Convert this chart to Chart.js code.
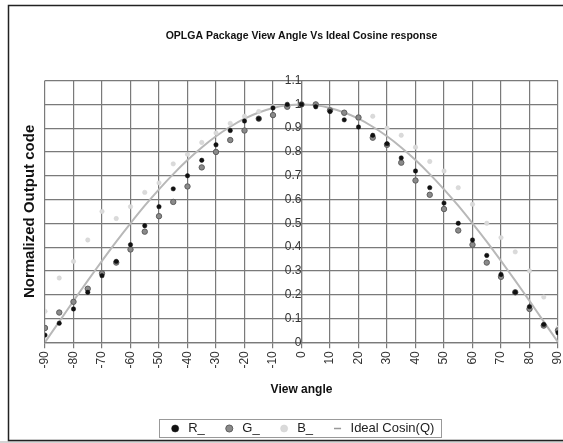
<!DOCTYPE html>
<html>
<head>
<meta charset="utf-8">
<script src="https://cdn.jsdelivr.net/npm/chart.js@4/dist/chart.umd.min.js"></script>
<style>
  body { margin: 0; background: #fff; }
  canvas { display: block; }
</style>
</head>
<body>
<canvas id="grafico" width="563" height="443"></canvas>
<script>
// ângulos de visada (graus), passo de 5
const angulos = [-90, -85, -80, -75, -70, -65, -60, -55, -50, -45, -40, -35, -30, -25, -20, -15, -10, -5,
  0, 5, 10, 15, 20, 25, 30, 35, 40, 45, 50, 55, 60, 65, 70, 75, 80, 85, 90];

// valores
const valoresR = [0.03, 0.08, 0.14, 0.21, 0.28, 0.34, 0.41, 0.49, 0.57, 0.645, 0.70, 0.765, 0.83, 0.89, 0.93, 0.94, 0.985, 1.0,
  1.0, 0.99, 0.97, 0.935, 0.905, 0.87, 0.835, 0.775, 0.72, 0.65, 0.585, 0.50, 0.43, 0.365, 0.285, 0.21, 0.15, 0.075, 0.04];

const valoresG = [0.06, 0.125, 0.17, 0.225, 0.29, 0.335, 0.39, 0.465, 0.53, 0.59, 0.655, 0.735, 0.80, 0.85, 0.89, 0.94, 0.955, 0.99,
  1.0, 1.0, 0.975, 0.965, 0.945, 0.86, 0.83, 0.755, 0.68, 0.62, 0.56, 0.47, 0.41, 0.335, 0.275, 0.21, 0.14, 0.07, 0.05];

const valoresB = [0.13, 0.27, 0.34, 0.43, 0.55, 0.52, 0.57, 0.63, 0.67, 0.75, 0.79, 0.84, 0.88, 0.92, 0.95, 0.97, 0.99, 1.0,
  1.0, 1.0, 0.98, 0.96, 0.94, 0.95, 0.90, 0.87, 0.82, 0.76, 0.72, 0.65, 0.58, 0.50, 0.44, 0.38, 0.30, 0.19, 0.06];

const cossenoIdeal = [0, 0.087, 0.174, 0.259, 0.342, 0.423, 0.5, 0.574, 0.643, 0.707, 0.766, 0.819, 0.866, 0.906, 0.94, 0.966, 0.985, 0.996,
  1.0, 0.996, 0.985, 0.966, 0.94, 0.906, 0.866, 0.819, 0.766, 0.707, 0.643, 0.574, 0.5, 0.423, 0.342, 0.259, 0.174, 0.087, 0];

const rotulos = ['R_', 'G_', 'B_', 'Ideal Cosin(Q)'];

const fonte = "'Liberation Sans', Arial, sans-serif";
const corGrade = '#7a7a7a';

function pontos(valores) {
  return angulos.map((a, i) => ({ x: a, y: valores[i] }));
}

// moldura externa e caixa da legenda
const molduraPlugin = {
  id: 'moldura',
  beforeDraw(chart) {
    const ctx = chart.ctx;
    ctx.save();
    ctx.fillStyle = '#fff';
    ctx.fillRect(0, 0, chart.width, chart.height);
    ctx.fillStyle = '#d4d4d4';
    ctx.fillRect(0, 441, chart.width, 2);
    ctx.strokeStyle = '#222';
    ctx.lineWidth = 1.5;
    ctx.strokeRect(8.5, 5.5, chart.width, 435);
    ctx.restore();
  },
  afterDraw(chart) {
    const caixas = chart.legend.legendHitBoxes;
    if (!caixas || !caixas.length) return;
    const esq = Math.min(...caixas.map(c => c.left)) - 10;
    const dir = Math.max(...caixas.map(c => c.left + c.width)) + 6;
    const topo = Math.min(...caixas.map(c => c.top)) - 3;
    const base = Math.max(...caixas.map(c => c.top + c.height)) + 2;
    const ctx = chart.ctx;
    ctx.save();
    ctx.strokeStyle = '#999';
    ctx.lineWidth = 1;
    ctx.strokeRect(Math.round(esq) + 0.5, Math.round(topo) + 0.5, Math.round(dir - esq), Math.round(base - topo));
    ctx.restore();
  }
};

const ctx = document.getElementById('grafico').getContext('2d');

new Chart(ctx, {
  type: 'line',
  data: {
    datasets: [
      {
        label: rotulos[0],
        data: pontos(valoresR),
        showLine: false,
        pointRadius: 2.2,
        pointBackgroundColor: '#111',
        pointBorderColor: '#111',
        pointBorderWidth: 0.5
      },
      {
        label: rotulos[1],
        data: pontos(valoresG),
        showLine: false,
        pointRadius: 2.7,
        pointBackgroundColor: '#8a8a8a',
        pointBorderColor: '#5e5e5e',
        pointBorderWidth: 1
      },
      {
        label: rotulos[2],
        data: pontos(valoresB),
        showLine: false,
        pointRadius: 2.2,
        pointBackgroundColor: '#dadada',
        pointBorderColor: '#d0d0d0',
        pointBorderWidth: 0.5
      },
      {
        label: rotulos[3],
        data: pontos(cossenoIdeal),
        borderColor: '#b8b8b8',
        borderWidth: 2,
        pointRadius: 0,
        pointStyle: 'line',
        pointBorderColor: '#999',
        pointBorderWidth: 1.5,
        tension: 0.3
      }
    ]
  },
  options: {
    responsive: false,
    animation: false,
    layout: { padding: { left: 10, right: 0, top: 0, bottom: -2 } },
    plugins: {
      title: {
        display: true,
        text: 'OPLGA Package View Angle Vs Ideal Cosine response',
        fullSize: false,
        color: '#111',
        font: { family: fonte, size: 10.5, weight: 'bold' },
        padding: { top: 30, bottom: 38 }
      },
      legend: {
        position: 'bottom',
        fullSize: false,
        labels: {
          usePointStyle: true,
          boxHeight: 5,
          padding: 18,
          color: '#222',
          font: { family: fonte, size: 13 }
        }
      },
      tooltip: { enabled: false }
    },
    scales: {
      x: {
        type: 'linear',
        min: -90,
        max: 90,
        // o último rótulo girado não deve encolher a área do gráfico
        afterFit: escala => { escala.paddingRight = 0; escala.paddingLeft = 0; },
        ticks: {
          stepSize: 10,
          minRotation: 90,
          maxRotation: 90,
          padding: 3,
          color: '#333',
          font: { family: fonte, size: 12 }
        },
        grid: { color: corGrade, lineWidth: 1.2, tickLength: 6 },
        border: { color: corGrade, width: 1.2 },
        title: {
          display: true,
          text: 'View angle',
          color: '#111',
          font: { family: fonte, size: 12, weight: 'bold' },
          padding: { top: 11, bottom: 7 }
        }
      },
      y: {
        type: 'linear',
        position: { x: 0 },
        min: 0,
        max: 1.1,
        ticks: {
          stepSize: 0.1,
          padding: 0,
          color: '#333',
          font: { family: fonte, size: 12 },
          callback: v => String(+v.toFixed(1))
        },
        grid: { color: corGrade, lineWidth: 1.2, tickLength: 4 },
        border: { color: corGrade, width: 1.2 }
      },
      yTitulo: {
        type: 'linear',
        position: 'left',
        ticks: { display: false },
        grid: { display: false, drawTicks: false },
        border: { display: false },
        title: {
          display: true,
          text: 'Normalized Output code',
          color: '#111',
          font: { family: fonte, size: 15, weight: 'bold' },
          padding: { top: 11, bottom: 6 }
        }
      }
    }
  },
  plugins: [molduraPlugin]
});
</script>
</body>
</html>
